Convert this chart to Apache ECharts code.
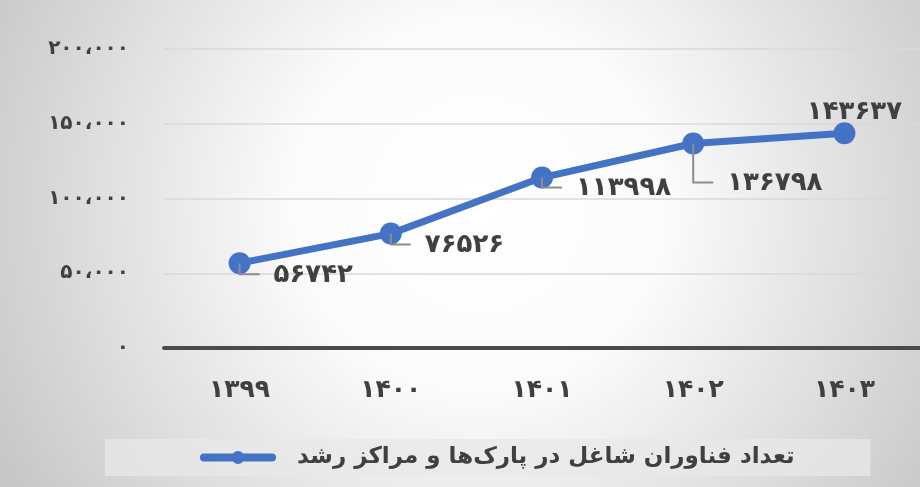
<!DOCTYPE html>
<html>
<head>
<meta charset="utf-8">
<script src="https://cdn.jsdelivr.net/npm/echarts@6/dist/echarts.min.js"></script>
<style>
  html, body { margin: 0; padding: 0; }
  #main { width: 920px; height: 487px; }
</style>
</head>
<body>
<div id="main"></div>
<script>
// سال‌ها و تعداد فناوران
var years = [1399, 1400, 1401, 1402, 1403];
var workers = [56742, 76526, 113998, 136798, 143637];
var yTicks = [0, 50000, 100000, 150000, 200000];
var seriesName = "تعداد فناوران شاغل در پارک‌ها و مراکز رشد";

// leader line drop (px) under each point, null = label above
var labelDrop = [11, 11, 10, 39, null];

var FONT = "DejaVu Sans";
var TXT = "#404040";

function toFa(s) {
  return String(s).replace(/[0-9]/g, function (d) {
    return "۰۱۲۳۴۵۶۷۸۹"[+d];
  });
}
function faThousands(v) {
  var s = String(v).replace(/\B(?=(\d{3})+(?!\d))/g, "،");
  return toFa(s);
}

var myChart = echarts.init(document.getElementById("main"));

var option = {
  backgroundColor: new echarts.graphic.RadialGradient(0.52, 0.42, 1.1, [
    { offset: 0, color: "#ffffff" },
    { offset: 0.35, color: "#fbfbfb" },
    { offset: 1, color: "#c8c8c8" }
  ]),
  animation: false,
  grid: {
    left: 164,
    right: -5,
    top: 49,
    bottom: 139,
    containLabel: false
  },
  legend: {
    data: [seriesName],
    bottom: 11,
    left: 105,
    padding: [7, 76, 7, 95],
    backgroundColor: "rgba(232,232,232,0.75)",
    itemWidth: 68,
    itemHeight: 16,
    itemGap: 10,
    lineStyle: { width: 8, cap: "round", color: "#4472C4" },
    itemStyle: { color: "#4472C4" },
    textStyle: {
      fontFamily: FONT,
      fontSize: 23,
      fontWeight: "bold",
      color: TXT,
      padding: [0, 0, 0, 20]
    }
  },
  xAxis: {
    type: "category",
    data: years.map(toFa),
    boundaryGap: true,
    axisLine: { show: true, lineStyle: { color: "#4a4a4a", width: 4 } },
    axisTick: { show: false },
    axisLabel: {
      margin: 30,
      fontFamily: FONT,
      fontSize: 25,
      fontWeight: "bold",
      color: TXT
    }
  },
  yAxis: {
    type: "value",
    min: 0,
    max: 200000,
    interval: 50000,
    axisLine: { show: false },
    axisTick: { show: false },
    splitLine: { lineStyle: { color: "#d9d9d9", width: 1.5 } },
    axisLabel: {
      margin: 35,
      fontFamily: FONT,
      fontSize: 20,
      fontWeight: "bold",
      color: TXT,
      formatter: function (v) {
        return yTicks.indexOf(v) >= 0 ? faThousands(v) : "";
      }
    }
  },
  series: [
    {
      name: seriesName,
      type: "line",
      data: workers,
      symbol: "circle",
      symbolSize: 22,
      itemStyle: { color: "#4472C4" },
      lineStyle: { color: "#4472C4", width: 7 },
      z: 3
    },
    {
      name: "labels",
      type: "custom",
      data: workers.map(function (v, i) { return [i, v]; }),
      encode: { x: 0, y: 1 },
      z: 5,
      silent: true,
      renderItem: function (params, api) {
        var i = params.dataIndex;
        var pt = api.coord([api.value(0), api.value(1)]);
        var txt = toFa(workers[i]);
        var drop = labelDrop[i];
        if (drop == null) {
          return {
            type: "text",
            style: {
              x: pt[0] + 10,
              y: pt[1] - 21,
              text: txt,
              align: "center",
              verticalAlign: "middle",
              font: "bold 26px '" + FONT + "'",
              fill: TXT
            }
          };
        }
        var len = 20;
        return {
          type: "group",
          children: [
            {
              type: "polyline",
              shape: {
                points: [
                  [pt[0], pt[1]],
                  [pt[0], pt[1] + drop],
                  [pt[0] + len, pt[1] + drop]
                ]
              },
              style: { stroke: "#8c8c8c", lineWidth: 2, fill: null }
            },
            {
              type: "text",
              style: {
                x: pt[0] + len + 14,
                y: pt[1] + drop + 1,
                text: txt,
                align: "left",
                verticalAlign: "middle",
                font: "bold 26px '" + FONT + "'",
                fill: TXT
              }
            }
          ]
        };
      }
    }
  ]
};

myChart.setOption(option);
window.addEventListener("resize", function () {
  myChart.resize();
});
</script>
</body>
</html>
